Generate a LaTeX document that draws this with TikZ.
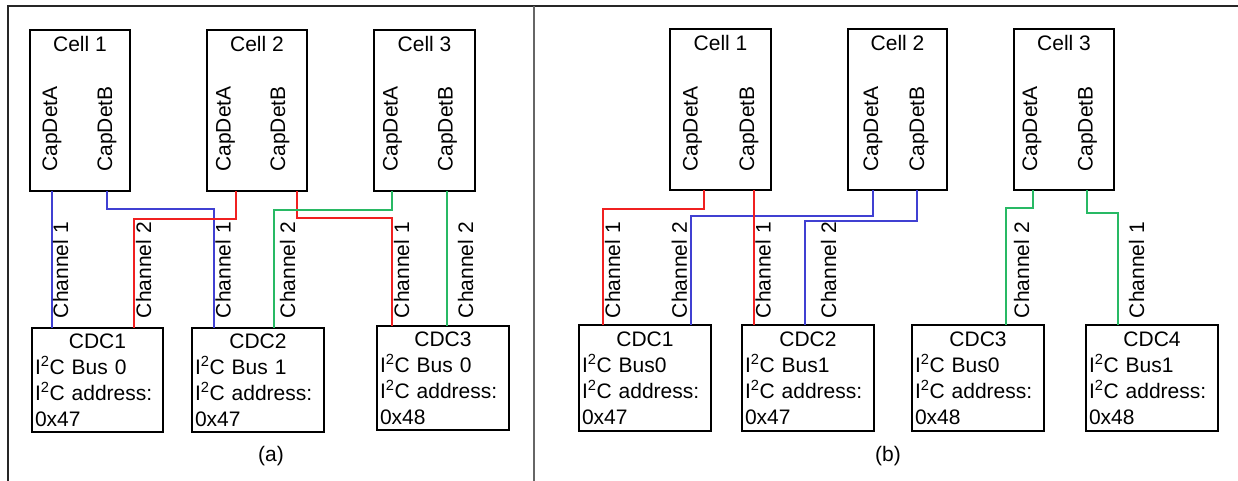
\documentclass[tikz,border=0pt]{standalone}
\usepackage{fontspec}
\setmainfont{Liberation Sans}
\def\IIC{I\textsuperscript{2}C}
\definecolor{wblue}{RGB}{64,64,210}
\definecolor{wred}{RGB}{240,32,32}
\definecolor{wgreen}{RGB}{40,185,100}

\begin{document}
\begin{tikzpicture}[x=1pt,y=-1pt,font=\fontsize{21}{26}\selectfont,inner sep=0pt,outer sep=0pt,
    cell/.style={draw,line width=1.5pt,anchor=north west,minimum width=100pt,minimum height=161pt},
    cdc/.style={draw,line width=1.5pt,anchor=north west,minimum width=131pt,minimum height=104pt,text width=125pt,align=left,inner sep=3pt},
    capdet/.style={rotate=90},
    chan/.style={rotate=90,anchor=north west,text=black},
    wire/.style={line width=1.5pt}]
    \useasboundingbox (0,0) rectangle (1238,480);

    \draw[line width=2pt,black!85] (7.5,482) |- (1240,6);
    \draw[line width=2pt,black!60] (534,6) -- (534,482);

    \begin{scope}
        \node[cell] (Ca1) at (30,30) {};
        \node[cell] (Ca2) at (207,30) {};
        \node[cell,minimum width=101pt] (Ca3) at (374,30) {};
        \node[anchor=base] (Ca1t) at ([yshift=-21pt]Ca1.north) {Cell 1};
        \node[anchor=base] (Ca2t) at ([yshift=-21pt]Ca2.north) {Cell 2};
        \node[anchor=base] (Ca3t) at ([yshift=-21pt]Ca3.north) {Cell 3};
        \node[capdet] (Ca1a) at (52,129) {CapDetA};
        \node[capdet] (Ca1b) at (107,129) {CapDetB};
        \node[capdet] (Ca2a) at (225.5,129) {CapDetA};
        \node[capdet] (Ca2b) at (280,129) {CapDetB};
        \node[capdet] (Ca3a) at (392.5,129) {CapDetA};
        \node[capdet] (Ca3b) at (447.5,129) {CapDetB};

        \node[cdc] (Da1) at (32,328) {\hfill CDC1\hfill\null\\\IIC{} Bus 0\\\IIC{} address:\\0x47};
        \node[cdc,minimum width=132pt,text width=126pt] (Da2) at (192,328) {\hfill CDC2\hfill\null\\\IIC{} Bus 1\\\IIC{} address:\\0x47};
        \node[cdc,minimum width=132pt,text width=126pt] (Da3) at (377,326) {\hfill CDC3\hfill\null\\\IIC{} Bus 0\\\IIC{} address:\\0x48};

        \draw[wire,wblue] ([xshift=22pt]Ca1.south west) -- ([xshift=20pt]Da1.north west) node[xshift=1pt,yshift=10pt,chan] {Channel 1};
        \draw[wire,wblue] ([xshift=77pt]Ca1.south west) -- ++(0,18) -| ([xshift=22pt]Da2.north west) node[xshift=1.5pt,yshift=10pt,chan] {Channel 1};
        \draw[wire,wred] ([xshift=29pt]Ca2.south west) -- ++(0,28) -| ([xshift=102pt]Da1.north west) node[xshift=2pt,yshift=10pt,chan] {Channel 2};
        \draw[wire,wred] ([xshift=90pt]Ca2.south west) -- ++(0,27) -| ([xshift=15pt]Da3.north west) node[xshift=2pt,yshift=8pt,chan] {Channel 1};
        \draw[wire,wgreen] ([xshift=18pt]Ca3.south west) -- ++(0,19) -| ([xshift=82pt]Da2.north west) node[xshift=6pt,yshift=10pt,chan] {Channel 2};
        \draw[wire,wgreen] ([xshift=73pt]Ca3.south west) -- ([xshift=70pt]Da3.north west) node[xshift=11pt,yshift=8pt,chan] {Channel 2};

        \node (La) at (271,456) {(a)};
    \end{scope}

    \begin{scope}[cdc/.append style={minimum width=132pt,minimum height=106pt,text width=126pt}]
        \node[cell,minimum width=101pt] (Cb1) at (670,29) {};
        \node[cell,minimum width=99pt] (Cb2) at (848,29) {};
        \node[cell] (Cb3) at (1014,29) {};
        \node[anchor=base] (Cb1t) at ([yshift=-21pt]Cb1.north) {Cell 1};
        \node[anchor=base] (Cb2t) at ([yshift=-21pt]Cb2.north) {Cell 2};
        \node[anchor=base] (Cb3t) at ([yshift=-21pt]Cb3.north) {Cell 3};
        \node[capdet] (Cb1a) at (692.5,129) {CapDetA};
        \node[capdet] (Cb1b) at (749,129) {CapDetB};
        \node[capdet] (Cb2a) at (873,129) {CapDetA};
        \node[capdet] (Cb2b) at (919,129) {CapDetB};
        \node[capdet] (Cb3a) at (1032,129) {CapDetA};
        \node[capdet] (Cb3b) at (1087.5,129) {CapDetB};

        \node[cdc] (Db1) at (579,325) {\hfill CDC1\hfill\null\\\IIC{} Bus0\\\IIC{} address:\\0x47};
        \node[cdc] (Db2) at (742,325) {\hfill CDC2\hfill\null\\\IIC{} Bus1\\\IIC{} address:\\0x47};
        \node[cdc] (Db3) at (912,325) {\hfill CDC3\hfill\null\\\IIC{} Bus0\\\IIC{} address:\\0x48};
        \node[cdc] (Db4) at (1086,325) {\hfill CDC4\hfill\null\\\IIC{} Bus1\\\IIC{} address:\\0x48};

        \draw[wire,wred] ([xshift=34pt]Cb1.south west) -- ++(0,19) -| ([xshift=24pt]Db1.north west) node[xshift=2pt,yshift=7pt,chan] {Channel 1};
        \draw[wire,wblue] ([xshift=25pt]Cb2.south west) -- ++(0,26) -| ([xshift=112pt]Db1.north west) node[xshift=-4pt,yshift=7pt,chan,anchor=south west] {Channel 2};
        \draw[wire,wred] ([xshift=84pt]Cb1.south west) -- ([xshift=12pt]Db2.north west) node[xshift=1.5pt,yshift=7pt,chan] {Channel 1};
        \draw[wire,wblue] ([xshift=69pt]Cb2.south west) -- ++(0,31) -| ([xshift=63pt]Db2.north west) node[xshift=16pt,yshift=7pt,chan] {Channel 2};
        \draw[wire,wgreen] ([xshift=19pt]Cb3.south west) -- ++(0,18) -| ([xshift=94pt]Db3.north west) node[xshift=8pt,yshift=7pt,chan] {Channel 2};
        \draw[wire,wgreen] ([xshift=73pt]Cb3.south west) -- ++(0,23) -| ([xshift=32pt]Db4.north west) node[xshift=11pt,yshift=7pt,chan] {Channel 1};

        \node (Lb) at (888,456) {(b)};
    \end{scope}

\end{tikzpicture}
\end{document}
